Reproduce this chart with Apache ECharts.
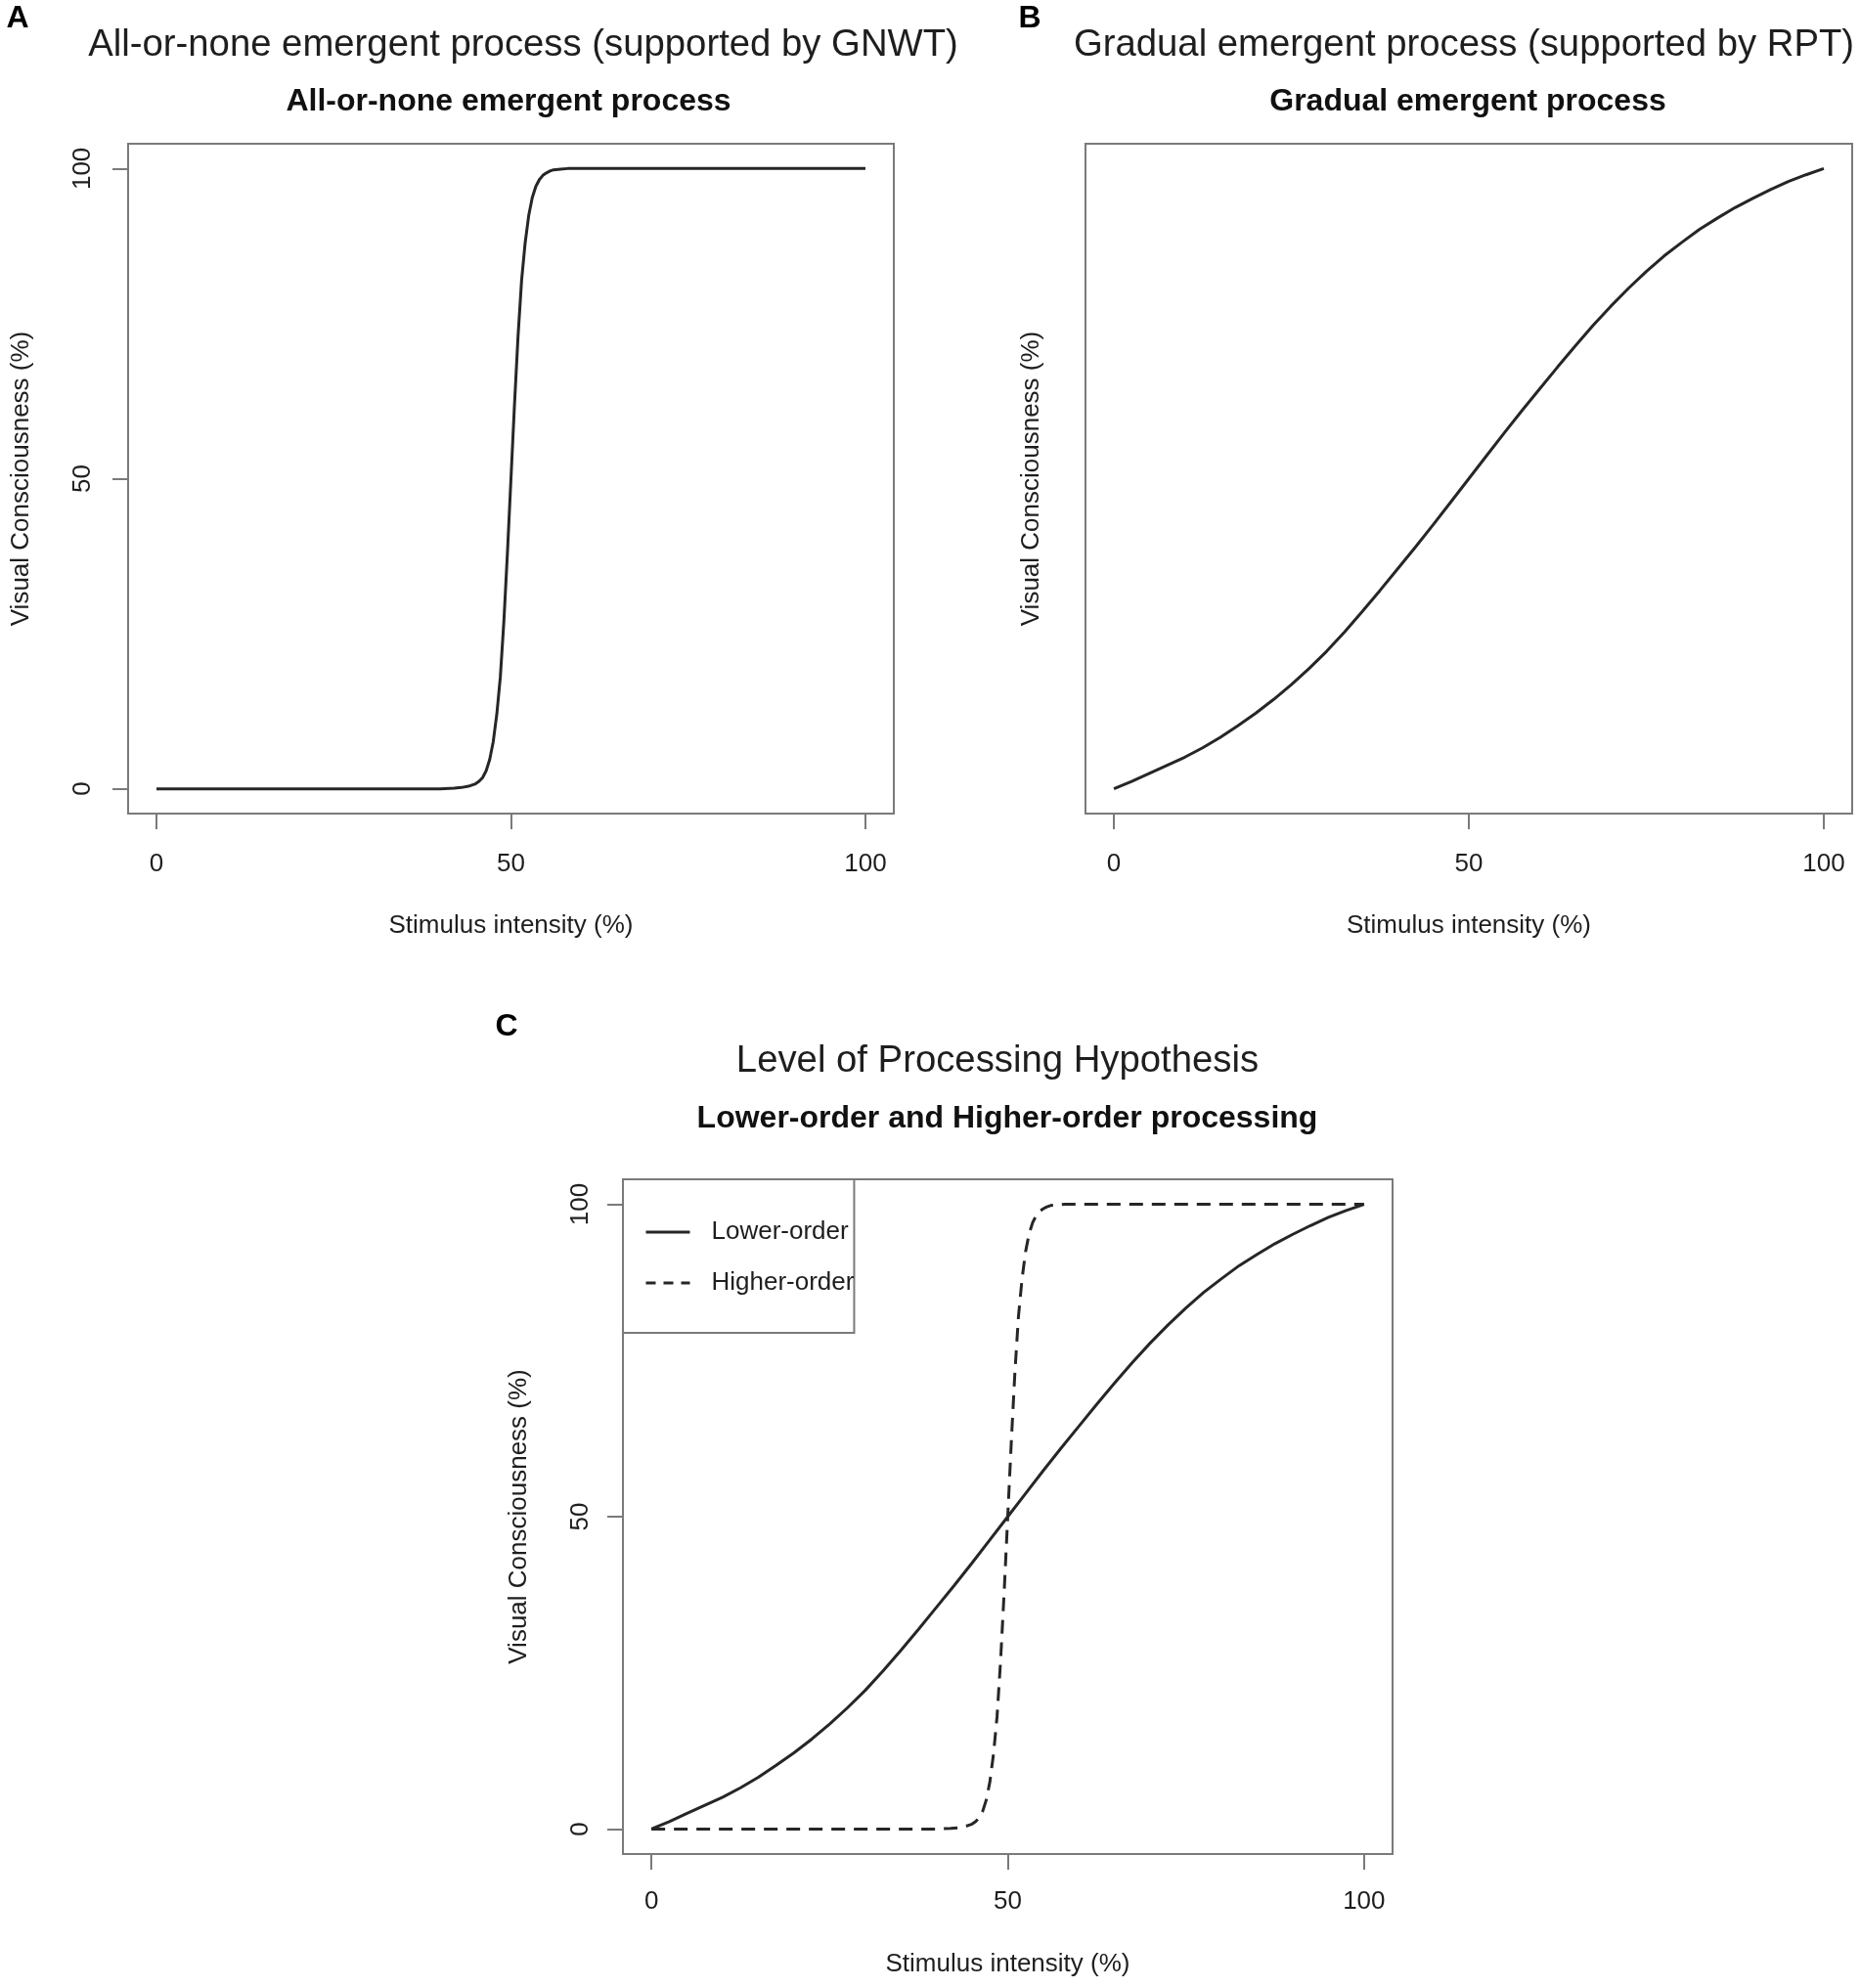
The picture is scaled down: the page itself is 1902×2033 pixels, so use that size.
<!DOCTYPE html>
<html>
<head>
<meta charset="utf-8">
<style>
html,body{margin:0;padding:0;background:#fff;}
#chart{width:1902px;height:2033px;}
</style>
<script src="https://cdn.jsdelivr.net/npm/echarts@6.0.0/dist/echarts.min.js"></script>
</head>
<body>
<div id="chart"></div>
<script>
// ---- data ----
var tickValues = [0, 50, 100];
// all-or-none (steep) curve
var steepX = [0, 10, 20, 30, 40, 42, 43, 44, 44.5, 45, 45.5, 46, 46.5, 47, 47.5, 48, 48.5, 49, 49.5, 50, 50.5, 51, 51.5, 52, 52.5, 53, 53.5, 54, 54.5, 55, 55.5, 56, 57, 58, 60, 70, 80, 90, 100];
var steepY = [0, 0, 0, 0, 0, 0.1, 0.2, 0.4, 0.6, 0.8, 1.2, 1.8, 2.9, 4.7, 7.6, 12, 18, 27, 38, 50, 62, 73, 82, 88, 92.4, 95.3, 97.1, 98.2, 98.9, 99.3, 99.6, 99.8, 99.9, 100, 100, 100, 100, 100, 100];
// gradual curve
var gradX = [0, 2.5, 5, 7.5, 10, 12.5, 15, 17.5, 20, 22.5, 25, 27.5, 30, 32.5, 35, 37.5, 40, 42.5, 45, 47.5, 50, 52.5, 55, 57.5, 60, 62.5, 65, 67.5, 70, 72.5, 75, 77.5, 80, 82.5, 85, 87.5, 90, 92.5, 95, 97.5, 100];
var gradY = [0, 1.2, 2.5, 3.8, 5.1, 6.6, 8.3, 10.2, 12.2, 14.4, 16.8, 19.4, 22.2, 25.3, 28.6, 32.0, 35.5, 39.0, 42.6, 46.3, 50, 53.7, 57.4, 61.0, 64.5, 68.0, 71.4, 74.7, 77.8, 80.7, 83.4, 85.9, 88.1, 90.2, 92.0, 93.7, 95.2, 96.6, 97.9, 99.0, 100];
var legendNames = ['Lower-order', 'Higher-order'];

function pairs(xs, ys) { return xs.map(function (x, i) { return [x, ys[i]]; }); }

var FONT = '"Liberation Sans", Arial, sans-serif';
var TXT = '#1e1e1e';
var BOX = '#7a7a7a';
var LINE = '#262626';
var DASH = [14, 9];

function xAxisCfg(gi, labelMargin, nameGap) {
  return {
    gridIndex: gi, type: 'value', min: -4, max: 104,
    name: 'Stimulus intensity (%)', nameLocation: 'middle', nameGap: nameGap,
    nameTextStyle: { fontFamily: FONT, fontSize: 26, color: TXT },
    axisLine: { show: false, onZero: false },
    axisTick: { show: true, inside: false, length: 16, customValues: tickValues, lineStyle: { color: BOX, width: 2 } },
    axisLabel: { show: true, margin: labelMargin, customValues: tickValues, fontFamily: FONT, fontSize: 26, color: TXT },
    splitLine: { show: false }
  };
}
function yAxisCfg(gi, showLabels, labelMargin, nameGap) {
  return {
    gridIndex: gi, type: 'value', min: -4, max: 104,
    name: 'Visual Consciousness (%)', nameLocation: 'middle', nameGap: nameGap, nameRotate: 90,
    nameTextStyle: { fontFamily: FONT, fontSize: 26, color: TXT },
    axisLine: { show: false, onZero: false },
    axisTick: { show: showLabels, inside: false, length: 16, customValues: tickValues, lineStyle: { color: BOX, width: 2 } },
    axisLabel: { show: showLabels, rotate: 90, margin: labelMargin, customValues: tickValues, fontFamily: FONT, fontSize: 26, color: TXT },
    splitLine: { show: false }
  };
}
function txt(x, y, s, size, weight, color) {
  return { type: 'text', x: x, y: y, silent: true,
    style: { text: s, fontFamily: FONT, fontSize: size, fontWeight: weight, fill: color || TXT, align: 'center', verticalAlign: 'middle' } };
}

var chart = echarts.init(document.getElementById('chart'), null, { renderer: 'canvas' });
chart.setOption({
  backgroundColor: '#ffffff',
  animation: false,
  grid: [
    { left: 131, top: 147, width: 783, height: 685, show: true, borderColor: BOX, borderWidth: 2, backgroundColor: 'transparent' },
    { left: 1110, top: 147, width: 784, height: 685, show: true, borderColor: BOX, borderWidth: 2, backgroundColor: 'transparent' },
    { left: 637, top: 1206, width: 787, height: 690, show: true, borderColor: BOX, borderWidth: 2, backgroundColor: 'transparent' }
  ],
  xAxis: [xAxisCfg(0, 39, 102), xAxisCfg(1, 39, 102), xAxisCfg(2, 36, 100)],
  yAxis: [yAxisCfg(0, true, 33, 96), yAxisCfg(1, false, 33, 42), yAxisCfg(2, true, 30, 93)],
  legend: {
    left: 637, top: 1206, orient: 'vertical', selectedMode: false,
    data: [
      { name: legendNames[0], itemStyle: { opacity: 0 }, lineStyle: { type: 'solid', width: 3, color: LINE } },
      { name: legendNames[1], itemStyle: { opacity: 0 }, lineStyle: { type: [10, 8], width: 3, color: LINE } }
    ],
    borderColor: BOX, borderWidth: 2, backgroundColor: '#fff',
    padding: [41, 0, 38, 22], itemGap: 26, itemWidth: 45, itemHeight: 22,
    textStyle: { fontFamily: FONT, fontSize: 26, color: TXT, padding: [0, 0, 0, 17] }
  },
  graphic: [
    txt(18, 19, 'A', 32, 'bold', '#000'),
    txt(1053, 19, 'B', 32, 'bold', '#000'),
    txt(518, 1050, 'C', 32, 'bold', '#000'),
    txt(535, 46, 'All-or-none emergent process (supported by GNWT)', 38.3, 'normal'),
    txt(520, 104, 'All-or-none emergent process', 32, 'bold', '#111'),
    txt(1497, 46, 'Gradual emergent process (supported by RPT)', 38.3, 'normal'),
    txt(1501, 104, 'Gradual emergent process', 32, 'bold', '#111'),
    txt(1020, 1085, 'Level of Processing Hypothesis', 38.3, 'normal'),
    txt(1030, 1144, 'Lower-order and Higher-order processing', 32, 'bold', '#111')
  ],
  series: [
    { type: 'line', xAxisIndex: 0, yAxisIndex: 0, data: pairs(steepX, steepY), symbol: 'none', smooth: false,
      lineStyle: { color: LINE, width: 3 }, itemStyle: { color: LINE } },
    { type: 'line', xAxisIndex: 1, yAxisIndex: 1, data: pairs(gradX, gradY), symbol: 'none', smooth: false,
      lineStyle: { color: LINE, width: 3 }, itemStyle: { color: LINE } },
    { name: legendNames[0], type: 'line', xAxisIndex: 2, yAxisIndex: 2, data: pairs(gradX, gradY), symbol: 'none', smooth: false,
      lineStyle: { color: LINE, width: 3 }, itemStyle: { color: LINE } },
    { name: legendNames[1], type: 'line', xAxisIndex: 2, yAxisIndex: 2, data: pairs(steepX, steepY), symbol: 'none', smooth: false,
      lineStyle: { color: LINE, width: 3, type: DASH }, itemStyle: { color: LINE } }
  ]
});
</script>
</body>
</html>
